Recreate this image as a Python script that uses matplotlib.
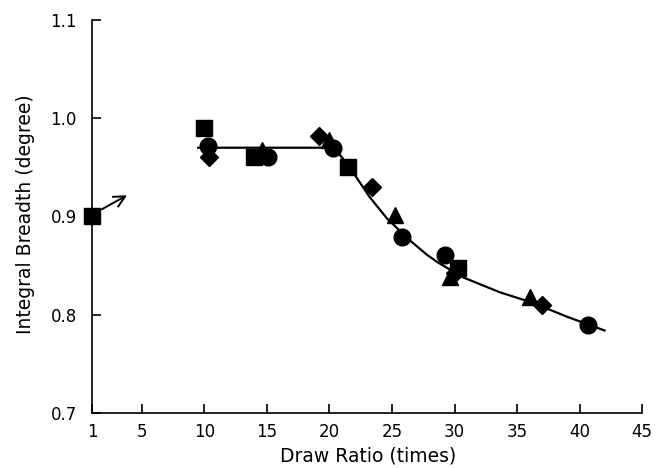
import matplotlib
matplotlib.use("Agg")
import matplotlib.pyplot as plt

# data
sq_x = [1.0, 10.0, 14.0, 21.5, 30.3]
sq_y = [0.900, 0.990, 0.961, 0.950, 0.848]
ci_x = [10.3, 15.1, 20.3, 25.8, 29.2, 40.7]
ci_y = [0.972, 0.961, 0.970, 0.879, 0.861, 0.790]
tr_x = [14.6, 20.0, 25.2, 29.6, 36.0]
tr_y = [0.968, 0.978, 0.902, 0.838, 0.818]
di_x = [10.4, 19.2, 23.4, 30.0, 37.0]
di_y = [0.961, 0.982, 0.930, 0.843, 0.810]

fit_x = [9.5, 20.0, 20.5, 21.0, 22.2, 23.2, 24.6, 26.4, 27.8, 28.7, 30.7, 33.6, 36.3, 39.0, 42.0]
fit_y = [0.970, 0.970, 0.968, 0.960, 0.939, 0.920, 0.898, 0.876, 0.861, 0.853, 0.838, 0.823, 0.812, 0.798, 0.784]

xticks = [1, 5, 10, 15, 20, 25, 30, 35, 40, 45]
yticks = [0.7, 0.8, 0.9, 1.0, 1.1]

plt.rcParams['font.family'] = ['DejaVu Sans']

fig = plt.figure(figsize=(6.56, 4.68), dpi=100)
ax = fig.add_axes([0.1402, 0.1175, 0.8385, 0.8398])

ax.plot(fit_x, fit_y, color='black', lw=1.6, zorder=2)
ax.plot(sq_x, sq_y, 's', color='black', ms=11.5, zorder=3, clip_on=False)
ax.plot(ci_x, ci_y, 'o', color='black', ms=12, zorder=3)
ax.plot(tr_x, tr_y, '^', color='black', ms=12, zorder=3)
ax.plot(di_x, di_y, 'D', color='black', ms=9, zorder=3)

# arrow next to the first point
ax.annotate('', xy=(4.0, 0.923), xytext=(1.6, 0.906),
            arrowprops=dict(arrowstyle='->', color='black', lw=1.4, mutation_scale=20))

ax.set_xlim(1, 45)
ax.set_ylim(0.7, 1.1)
ax.set_xticks(xticks)
ax.set_xticklabels([str(t) for t in xticks])
ax.set_yticks(yticks)
ax.set_yticklabels(['%.1f' % t for t in yticks])
ax.tick_params(direction='in', length=6.5, width=1.2, labelsize=12)
ax.tick_params(axis='x', pad=7)
ax.tick_params(axis='y', pad=11)

ax.spines['top'].set_visible(False)
ax.spines['right'].set_visible(False)
ax.spines['left'].set_linewidth(1.2)
ax.spines['bottom'].set_linewidth(1.2)

ax.set_xlabel('Draw Ratio (times)', fontsize=13.5)
ax.set_ylabel('Integral Breadth (degree)', fontsize=13.5)
ax.xaxis.set_label_coords(0.502, -0.085)
ax.yaxis.set_label_coords(-0.104, 0.506)

fig.savefig('out.png', dpi=100)
